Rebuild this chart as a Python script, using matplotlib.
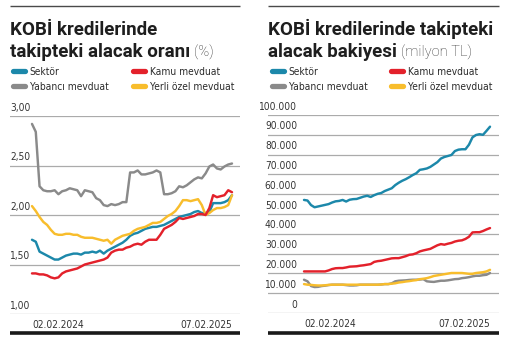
import matplotlib
matplotlib.use("Agg")
import matplotlib.pyplot as plt
from matplotlib import font_manager
from matplotlib.lines import Line2D
from matplotlib.transforms import ScaledTranslation
import pandas as pd

# Weekly observations, 02.02.2024 - 07.02.2025
dates = pd.date_range("2024-02-02", periods=54, freq="7D")

# NPL ratio (%)
ratio_sektor = [1.75, 1.73, 1.63, 1.61, 1.59, 1.57, 1.55, 1.55, 1.57, 1.59,
                1.60, 1.61, 1.61, 1.60, 1.62, 1.62, 1.63, 1.62, 1.64, 1.61,
                1.64, 1.66, 1.68, 1.70, 1.72, 1.75, 1.79, 1.81, 1.82, 1.84,
                1.86, 1.87, 1.88, 1.88, 1.89, 1.90, 1.92, 1.94, 1.96, 1.98,
                1.99, 2.00, 2.01, 2.03, 2.04, 2.02, 2.02, 2.03, 2.12, 2.12,
                2.12, 2.13, 2.15, 2.20]
ratio_yabanci = [2.92, 2.84, 2.29, 2.25, 2.24, 2.24, 2.25, 2.21, 2.24, 2.25,
                 2.27, 2.26, 2.25, 2.19, 2.25, 2.24, 2.23, 2.17, 2.15, 2.10,
                 2.09, 2.11, 2.10, 2.11, 2.13, 2.13, 2.43, 2.43, 2.45, 2.41,
                 2.41, 2.42, 2.43, 2.45, 2.43, 2.21, 2.21, 2.22, 2.24, 2.29,
                 2.28, 2.30, 2.33, 2.36, 2.38, 2.37, 2.42, 2.49, 2.51, 2.47,
                 2.46, 2.49, 2.51, 2.52]
ratio_kamu = [1.41, 1.41, 1.40, 1.40, 1.39, 1.37, 1.36, 1.37, 1.41, 1.43,
              1.44, 1.45, 1.46, 1.48, 1.50, 1.51, 1.52, 1.53, 1.54, 1.55,
              1.57, 1.62, 1.64, 1.65, 1.65, 1.67, 1.68, 1.70, 1.71, 1.70,
              1.73, 1.75, 1.75, 1.75, 1.80, 1.86, 1.88, 1.90, 1.93, 1.97,
              1.96, 1.97, 1.98, 1.99, 2.01, 2.01, 2.00, 2.07, 2.20, 2.18,
              2.19, 2.20, 2.25, 2.23]
ratio_yerli = [2.09, 2.04, 1.98, 1.93, 1.90, 1.85, 1.81, 1.80, 1.80, 1.81,
               1.81, 1.80, 1.80, 1.78, 1.77, 1.77, 1.77, 1.76, 1.75, 1.74,
               1.75, 1.71, 1.75, 1.77, 1.79, 1.80, 1.81, 1.84, 1.86, 1.87,
               1.88, 1.90, 1.92, 1.92, 1.93, 1.96, 1.99, 2.01, 2.04, 2.09,
               2.15, 2.15, 2.14, 2.15, 2.16, 2.10, 2.00, 2.02, 2.05, 2.07,
               2.07, 2.08, 2.10, 2.20]

# NPL balance, thousands of milyon TL
bal_sektor = [57.1, 56.8, 54.5, 53.4, 53.8, 54.2, 54.6, 55.0, 55.8, 56.4,
              56.6, 57.1, 56.3, 57.2, 57.5, 57.6, 58.2, 58.8, 59.2, 58.6,
              59.5, 60.2, 60.6, 61.6, 62.3, 63.0, 64.6, 65.8, 66.8, 67.6,
              68.6, 69.7, 70.6, 72.3, 72.6, 73.0, 73.8, 75.0, 76.2, 78.0,
              78.8, 79.3, 79.8, 81.8, 82.5, 82.7, 82.7, 85.0, 88.7, 89.9,
              90.3, 90.0, 92.0, 94.1]
bal_yabanci = [16.8, 16.0, 13.6, 13.1, 13.2, 13.6, 13.8, 14.1, 14.3, 14.3,
               14.3, 14.3, 14.1, 13.9, 13.9, 14.0, 14.3, 14.3, 14.3, 14.3,
               14.3, 14.3, 14.4, 14.6, 14.6, 15.0, 16.0, 16.3, 16.4, 16.5,
               16.7, 16.8, 16.8, 16.9, 17.1, 16.0, 15.8, 15.7, 16.0, 16.3,
               16.3, 16.5, 16.8, 17.1, 17.2, 17.6, 17.8, 18.1, 18.5, 18.8,
               18.8, 19.1, 19.3, 20.2]
bal_kamu = [21.0, 21.0, 21.0, 21.0, 21.0, 21.0, 21.0, 21.5, 22.2, 22.6,
            22.7, 22.7, 23.0, 23.4, 23.5, 23.6, 23.9, 24.1, 24.4, 24.7,
            25.8, 26.2, 26.4, 26.8, 27.2, 27.6, 27.7, 27.7, 28.2, 28.7,
            29.4, 29.6, 30.2, 31.1, 31.6, 32.0, 32.4, 33.3, 34.2, 34.8,
            34.5, 35.0, 35.4, 36.1, 36.5, 36.7, 37.4, 38.5, 40.7, 40.8,
            40.8, 41.4, 42.2, 42.9]
bal_yerli = [14.6, 14.3, 14.2, 14.0, 13.9, 13.9, 14.0, 14.2, 14.3, 14.3,
             14.3, 14.3, 14.3, 14.3, 14.3, 14.3, 14.3, 14.3, 14.3, 14.3,
             14.3, 14.3, 14.4, 14.6, 14.6, 14.8, 15.0, 15.4, 15.6, 15.9,
             16.1, 16.4, 16.6, 17.1, 17.3, 17.6, 18.1, 18.7, 19.0, 19.3,
             19.6, 19.9, 20.2, 20.2, 20.2, 20.2, 20.0, 19.8, 19.8, 20.2,
             20.4, 20.6, 21.0, 21.8]

ratio_ticks = [1.0, 1.5, 2.0, 2.5, 3.0]
ratio_labels = ["1,00", "1,50", "2,00", "2,50", "3,00"]
bal_ticks = [0, 10, 20, 30, 40, 50, 60, 70, 80, 90, 100]
bal_labels = ["0"] + [f"{v}.000" for v in bal_ticks[1:]]
date_labels = ["02.02.2024", "07.02.2025"]

COLORS = {"Sektör": "#1c88aa", "Yabancı mevduat": "#8a8a8a",
          "Kamu mevduat": "#e3212b", "Yerli özel mevduat": "#f8bd2c"}
DRAW_ORDER = ["Yabancı mevduat", "Sektör", "Yerli özel mevduat", "Kamu mevduat"]
LEGEND_COLS = [["Sektör", "Yabancı mevduat"], ["Kamu mevduat", "Yerli özel mevduat"]]


def narrow_font(size):
    """Pick the narrowest sans available for ticks and legend."""
    names = {f.name for f in font_manager.fontManager.ttflist}
    if "Liberation Sans Narrow" in names:
        return font_manager.FontProperties(family="Liberation Sans Narrow", size=size)
    cond = font_manager.FontProperties(family="DejaVu Sans", stretch="condensed", size=size)
    if "Condensed" in font_manager.findfont(cond):
        return cond
    return font_manager.FontProperties(family="Roboto", size=size)


SMALL = narrow_font(7.3)
TITLE = ["Roboto", "DejaVu Sans"]
W, H = 507, 341

fig = plt.figure(figsize=(W / 100, H / 100), dpi=100)
lift = ScaledTranslation(0, 2.5 / 72, fig.dpi_scale_trans)


def px_box(x0, y0, x1, y1):
    return [x0 / W, 1 - y1 / H, (x1 - x0) / W, (y1 - y0) / H]


def hrule(x0, x1, y, color, lw):
    fig.add_artist(Line2D([x0 / W, x1 / W], [1 - y / H, 1 - y / H],
                          transform=fig.transFigure, color=color, lw=lw,
                          solid_capstyle="butt"))


def panel(x0, x1, y_top, y_bot, data, ticks, labels, lpad, lha,
          title1, title2, unit, legend_xs):
    ax = fig.add_axes(px_box(x0, y_top, x1, y_bot))
    for name in DRAW_ORDER:
        ax.plot(dates, data[name], color=COLORS[name], lw=1.75,
                solid_capstyle="round", solid_joinstyle="round")
    ax.set_ylim(ticks[0], ticks[-1])
    ax.set_yticks(ticks)
    ax.set_yticklabels([])
    ax.tick_params(axis="both", length=0)
    ax.grid(axis="y", color="#ababab", lw=0.9)
    for s in ax.spines.values():
        s.set_visible(False)
    # value labels sit just above their gridline
    tr = ax.get_yaxis_transform() + lift
    for v, lab in zip(ticks, labels):
        ax.text(lpad, v, lab, transform=tr, ha=lha, va="bottom",
                fontproperties=SMALL, color="#333333")
    ax.set_xticks([dates[0], dates[-1]])
    ax.set_xticklabels(date_labels, fontproperties=SMALL, color="#333333")
    xl = ax.get_xticklabels()
    xl[0].set_ha("left")
    xl[1].set_ha("right")
    ax.tick_params(axis="x", pad=4)

    hrule(x0, x1, 6, "#4a4a4a", 1.0)
    hrule(x0, x1, 333, "#1a1a1a", 2.6)
    fig.text(x0 / W, 1 - 35 / H, title1, fontsize=13.5, fontweight="bold",
             color="#1e1e1e", family=TITLE)
    t2 = fig.text(x0 / W, 1 - 57 / H, title2, fontsize=13.5, fontweight="bold",
                  color="#1e1e1e", family=TITLE)

    for cx, names in zip(legend_xs, LEGEND_COLS):
        handles = [Line2D([], [], color=COLORS[n], lw=3.8, solid_capstyle="round")
                   for n in names]
        leg = fig.legend(handles, names, loc="upper left",
                         bbox_to_anchor=(cx / W, 1 - 67 / H), frameon=False,
                         prop=SMALL, handlelength=1.25, handletextpad=0.45,
                         labelspacing=0.45, borderpad=0, borderaxespad=0)
        for t in leg.get_texts():
            t.set_color("#2a2a2a")
    return ax, t2, unit


left, lt2, lunit = panel(10, 240, 116, 314,
                         {"Sektör": ratio_sektor, "Yabancı mevduat": ratio_yabanci,
                          "Kamu mevduat": ratio_kamu, "Yerli özel mevduat": ratio_yerli},
                         ratio_ticks, ratio_labels, 0.0, "left",
                         "KOBİ kredilerinde", "takipteki alacak oranı", "(%)",
                         [12.6, 132.6])
right, rt2, runit = panel(268, 499, 115, 313,
                          {"Sektör": bal_sektor, "Yabancı mevduat": bal_yabanci,
                           "Kamu mevduat": bal_kamu, "Yerli özel mevduat": bal_yerli},
                          bal_ticks, bal_labels, 29 / 231, "right",
                          "KOBİ kredilerinde takipteki", "alacak bakiyesi", "(milyon TL)",
                          [271.6, 390.6])

# first and last weeks land a little inside the gridline ends
week = pd.Timedelta(days=7)
left.set_xlim(dates[0] - 5.83 * week, dates[-1] + 2.12 * week)
right.set_xlim(dates[0] - 10.26 * week, dates[-1] + 2.56 * week)

# light unit suffix after the second title line
fig.canvas.draw()
renderer = fig.canvas.get_renderer()
for t, unit in [(lt2, lunit), (rt2, runit)]:
    bb = t.get_window_extent(renderer)
    fig.text((bb.x1 + 4) / W, 1 - 57 / H, unit, fontsize=10.5,
             fontweight="light", color="#333333", family=TITLE)

fig.savefig("out.png", dpi=100)
